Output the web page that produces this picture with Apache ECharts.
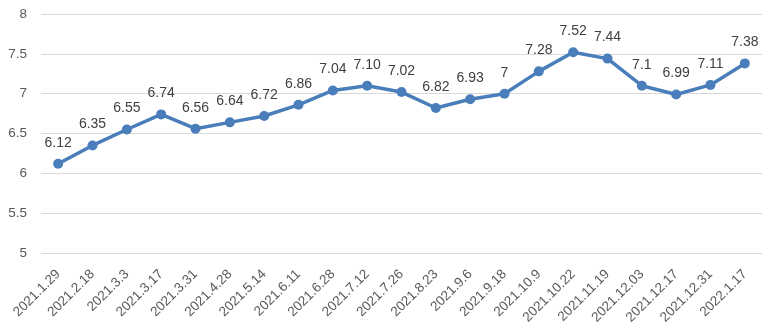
<!DOCTYPE html>
<html><head><meta charset="utf-8">
<script src="https://cdn.jsdelivr.net/npm/echarts@6/dist/echarts.min.js"></script>
<style>html,body{margin:0;padding:0;background:#fff}#c{width:776px;height:336px}</style>
</head><body><div id="c"></div>
<script>
var categories = ["2021.1.29","2021.2.18","2021.3.3","2021.3.17","2021.3.31","2021.4.28","2021.5.14","2021.6.11","2021.6.28","2021.7.12","2021.7.26","2021.8.23","2021.9.6","2021.9.18","2021.10.9","2021.10.22","2021.11.19","2021.12.03","2021.12.17","2021.12.31","2022.1.17"];
var values = [6.12,6.35,6.55,6.74,6.56,6.64,6.72,6.86,7.04,7.10,7.02,6.82,6.93,7,7.28,7.52,7.44,7.1,6.99,7.11,7.38];
var valueLabels = ["6.12","6.35","6.55","6.74","6.56","6.64","6.72","6.86","7.04","7.10","7.02","6.82","6.93","7","7.28","7.52","7.44","7.1","6.99","7.11","7.38"];
var yTicks = [5,5.5,6,6.5,7,7.5,8];

var chart = echarts.init(document.getElementById('c'));
var font = '"Liberation Sans", Arial, sans-serif';
chart.setOption({
  animation:false,
  grid:{left:41,right:14,top:14,bottom:83},
  xAxis:{type:'category',data:categories,boundaryGap:true,
    axisLine:{show:false},axisTick:{show:false},
    axisLabel:{rotate:45,interval:0,color:'#595959',fontSize:13.5,fontFamily:font,margin:19}},
  yAxis:{type:'value',min:yTicks[0],max:yTicks[yTicks.length-1],interval:0.5,
    axisLine:{show:false},axisTick:{show:false},
    splitLine:{lineStyle:{color:'#d9d9d9',width:1}},
    axisLabel:{color:'#595959',fontSize:13.5,fontFamily:font,margin:14,
      formatter:function(v){return String(v);}}},
  series:[{type:'line',data:values,symbol:'circle',symbolSize:10,
    lineStyle:{color:'#4a7ebb',width:3.5},itemStyle:{color:'#4a7ebb'},
    label:{show:true,position:'top',distance:9,color:'#404040',fontSize:14,fontFamily:font,
      formatter:function(p){return valueLabels[p.dataIndex];}}}]
});
</script></body></html>
